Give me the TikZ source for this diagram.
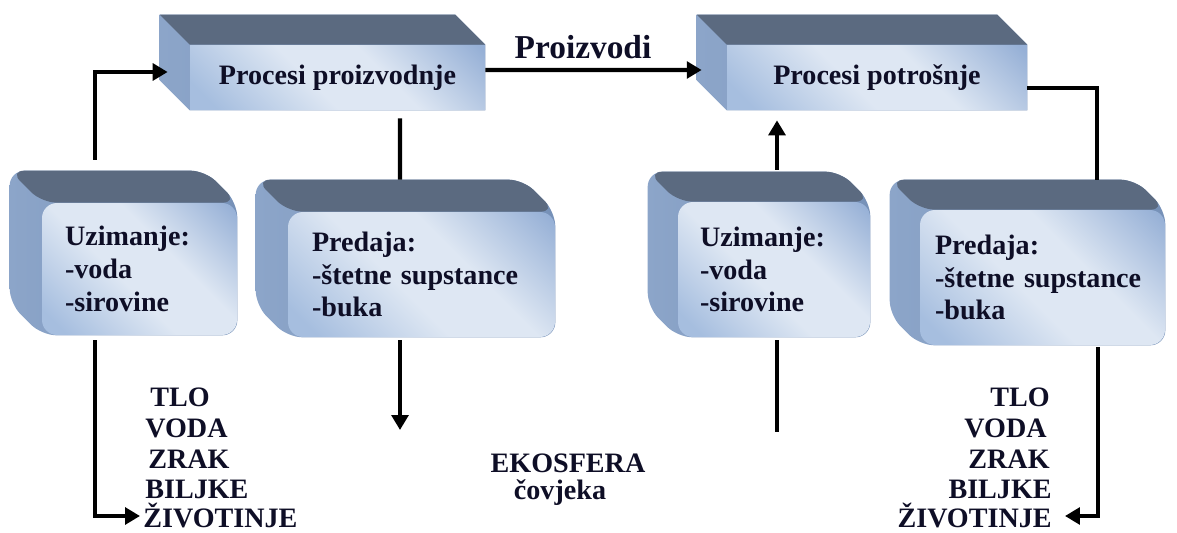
\documentclass[tikz,border=0pt]{standalone}
\usepackage{fontspec}
\setmainfont{Liberation Serif}
\usetikzlibrary{arrows.meta,backgrounds}
\definecolor{BoxTop}{RGB}{91,106,128}
\definecolor{BoxSide}{RGB}{118,145,184}
\definecolor{BoxSideLight}{RGB}{140,165,201}
\definecolor{BoxLight}{RGB}{222,231,243}
\definecolor{BoxBlue}{RGB}{166,190,223}
\definecolor{BoxDeep}{RGB}{150,176,214}
\definecolor{TextInk}{RGB}{14,14,38}
\pgfdeclareverticalshading{frontshade}{100bp}{color(0bp)=(BoxBlue); color(20bp)=(BoxBlue);
  color(44bp)=(BoxLight); color(60bp)=(BoxLight); color(84bp)=(BoxDeep); color(100bp)=(BoxDeep)}

% extruded back of a box, drawn behind node #1 (depth #2 px, corner radius #3)
\newcommand{\kvadar}[3]{%
  \begin{pgfonlayer}{background}
    \shade[left color=BoxSideLight, right color=BoxSide, rounded corners=#3]
      ([shift={(-#2,-#2)}]#1.south west) -- ([shift={(-#2,-#2)}]#1.north west)
      -- ([shift={(-#2,-#2)}]#1.north east) -- (#1.north east)
      -- (#1.south east) -- (#1.south west) -- cycle;
    \fill[BoxTop, rounded corners=#3]
      ([shift={(-#2,-#2)}]#1.north west) -- ([shift={(-#2,-#2)}]#1.north east)
      -- (#1.north east) -- (#1.north west) -- cycle;
  \end{pgfonlayer}}

\tikzset{
  frontbox/.style={shade, shading=frontshade, shading angle=-45,
    text=TextInk, align=left, inner sep=0pt,
    font=\fontsize{16}{18.7}\selectfont\bfseries},
  word/.style={text=TextInk, inner sep=0pt, font=\fontsize{16}{18.7}\selectfont\bfseries},
  flow/.style={line width=2.3pt, draw=black},
  arrowed/.style={-{Triangle[length=8.5pt,width=9.5pt]}}
}

\begin{document}
\begin{tikzpicture}[x=0.02cm, y=-0.02cm]
  \useasboundingbox (0,0) rectangle (1177,533);

  % top row
  \node[frontbox, minimum width=5.9cm, minimum height=1.3cm] (prod) at (337.5,77.5) {Procesi proizvodnje};
  \kvadar{prod}{30}{0pt}
  \node[frontbox, minimum width=6cm, minimum height=1.3cm] (potr) at (877,77.5) {Procesi potrošnje};
  \kvadar{potr}{30}{0pt}

  % lower row
  \node[frontbox, rounded corners=0.3cm, minimum width=3.9cm, minimum height=2.64cm, text width=2.98cm] (uzim1) at (139.5,269)
    {Uzimanje:\\-voda\\-sirovine};
  \kvadar{uzim1}{32}{0.3cm}
  \node[frontbox, rounded corners=0.3cm, minimum width=5.34cm, minimum height=2.5cm, text width=4.38cm] (pred1) at (421.5,274.5)
    {Predaja:\\-štetne supstance\\-buka};
  \kvadar{pred1}{32}{0.3cm}
  \node[frontbox, rounded corners=0.3cm, minimum width=3.84cm, minimum height=2.7cm, text width=2.96cm] (uzim2) at (774,269.5)
    {Uzimanje:\\-voda\\-sirovine};
  \kvadar{uzim2}{30}{0.3cm}
  \node[frontbox, rounded corners=0.3cm, minimum width=4.9cm, minimum height=2.7cm, text width=4.3cm] (pred2) at (1042.5,277.5)
    {Predaja:\\-štetne supstance\\-buka};
  \kvadar{pred2}{30}{0.3cm}

  % texts
  \node[word, font=\fontsize{19}{22}\selectfont\bfseries] (proizvodi) at (583,47) {Proizvodi};
  \node[word] (eko) at (568,463) {EKOSFERA};
  \node[word] (covjek) at (560,493) {čovjeka};
  \foreach \w/\x/\y/\n in {TLO/150/407/lt, VODA/145/438/lv, ZRAK/148/469/lz, BILJKE/145/499/lb, ŽIVOTINJE/143/527/zivL}
    \node[word, anchor=base west] (\n) at (\x,\y) {\w};
  \foreach \w/\x/\y/\n in {TLO/1050/407/rt, VODA/1047/438/rv, ZRAK/1050/469/rz, BILJKE/1052/499/rb, ŽIVOTINJE/1052/527/zivR}
    \node[word, anchor=base east] (\n) at (\x,\y) {\w};

  \coordinate (dolje1) at (400,430);
  \coordinate (gore2) at (777,432);

  % connectors
  \draw[flow, arrowed] ([shift={(-44.5,-43)}]uzim1.north) |- ([shift={(-22,-5.5)}]prod.west);
  \draw[flow, arrowed] ([shift={(-44.5,5)}]uzim1.south) |- ([shift={(-3,-11)}]zivL.base west);
  \draw[flow, arrowed] ([yshift=0.15cm]prod.east) -- ([shift={(-25,-7.5)}]potr.west);
  \draw[flow] ([shift={(62.5,8)}]prod.south) -- ([shift={(-21.5,-32)}]pred1.north);
  \draw[flow, arrowed] ([shift={(-21.5,3)}]pred1.south) -- (dolje1);
  \draw[flow] (gore2) -- ([shift={(3,3)}]uzim2.south);
  \draw[flow, arrowed] ([shift={(3,-32)}]uzim2.north) -- ([shift={(-100,10)}]potr.south);
  \draw[flow] ([shift={(0,10.5)}]potr.east) -| ([shift={(54.5,-30)}]pred2.north);
  \draw[flow, arrowed] ([shift={(55.5,2)}]pred2.south) |- ([shift={(13,-11)}]zivR.base east);
\end{tikzpicture}
\end{document}
